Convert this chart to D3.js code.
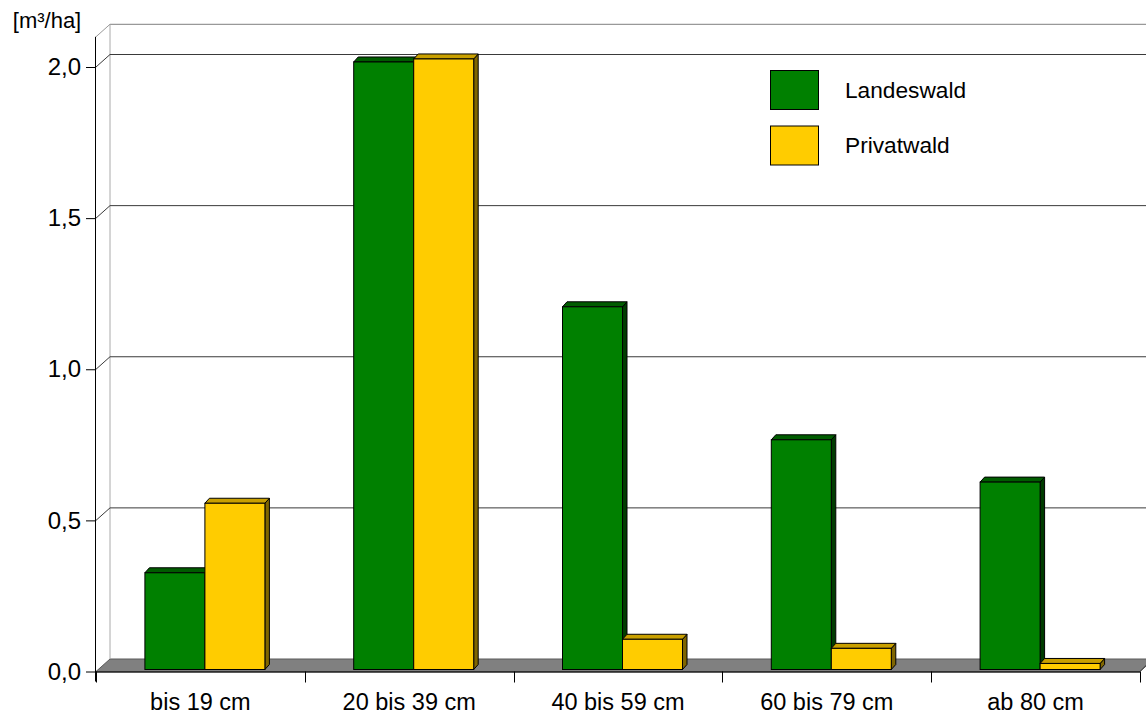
<!DOCTYPE html>
<html>
<head>
<meta charset="utf-8">
<script src="https://cdn.jsdelivr.net/npm/d3@7"></script>
<style>
  html, body { margin: 0; padding: 0; background: #fff; }
  svg { display: block; font-family: "Liberation Sans", Arial, sans-serif; }
</style>
</head>
<body>
<svg id="chart" width="1146" height="713"></svg>
<script>
// Data
const categories = ["bis 19 cm", "20 bis 39 cm", "40 bis 59 cm", "60 bis 79 cm", "ab 80 cm"];
const seriesNames = ["Landeswald", "Privatwald"];
const landeswald = [0.32, 2.01, 1.20, 0.76, 0.62];
const privatwald = [0.55, 2.02, 0.10, 0.07, 0.02];
const yTicks = [0, 0.5, 1.0, 1.5, 2.0];
const yTickLabels = ["0,0", "0,5", "1,0", "1,5", "2,0"];
const unitLabel = "[m³/ha]";

const seriesValues = [landeswald, privatwald];
const colors = {
  Landeswald: { front: "#008000", top: "#005c00", side: "#003c00" },
  Privatwald: { front: "#ffcc00", top: "#c9a000", side: "#806600" }
};

const svg = d3.select("#chart");
const tickFont = 24, catFont = 23.5, legendFont = 22.7, unitFont = 22;

// Plot geometry (front plane and back wall offset)
const left = 96, right = 1140;
const depthX = 14, depthY = -12.5;
const yFront = d3.scaleLinear().domain([0, 2]).range([671.5, 67]);
const yMax = 2.1; // top of the wall
const yBar = d3.scaleLinear().domain([0, 2]).range([669.5, 65]);

const xCat = d3.scaleBand().domain(categories).range([left, right]).padding(0);
const groupWidth = 120;
const xSeries = d3.scaleBand().domain(seriesNames).range([0, groupWidth]).padding(0);
const barShift = 4.5;
const barDx = 4.5, barDy = -5;

// Floor
const y0 = yFront(0);
svg.append("path")
  .attr("d", `M${left},${y0} L${right},${y0} L${right + depthX},${y0 + depthY} L${left + depthX},${y0 + depthY} Z`)
  .attr("fill", "#808080")
  .attr("stroke", "#5a5a5a")
  .attr("stroke-width", 1);

// Back wall top + left edge
const yTop = yFront(yMax);
svg.append("line")
  .attr("x1", left + depthX).attr("x2", 1146)
  .attr("y1", yTop + depthY).attr("y2", yTop + depthY)
  .attr("stroke", "#999").attr("stroke-width", 1.2);
svg.append("line")
  .attr("x1", left + depthX).attr("x2", left + depthX)
  .attr("y1", yTop + depthY).attr("y2", y0 + depthY)
  .attr("stroke", "#aaa").attr("stroke-width", 1);
svg.append("line")
  .attr("x1", left).attr("x2", left + depthX)
  .attr("y1", yTop).attr("y2", yTop + depthY)
  .attr("stroke", "#999").attr("stroke-width", 1);

// Gridlines on back wall with side-wall connectors
const grid = svg.append("g");
yTicks.filter(t => t > 0).forEach(t => {
  const yy = yFront(t);
  grid.append("line")
    .attr("x1", left + depthX).attr("x2", 1146)
    .attr("y1", yy + depthY).attr("y2", yy + depthY)
    .attr("stroke", "#3a3a3a").attr("stroke-width", 1);
  grid.append("line")
    .attr("x1", left).attr("x2", left + depthX)
    .attr("y1", yy).attr("y2", yy + depthY)
    .attr("stroke", "#3a3a3a").attr("stroke-width", 1);
});

// Bars (3D boxes)
const bars = svg.append("g");
categories.forEach((c, i) => {
  seriesNames.forEach((s, j) => {
    const v = seriesValues[j][i];
    const x = xCat(c) + (xCat.bandwidth() - groupWidth) / 2 + barShift + xSeries(s);
    const w = xSeries.bandwidth();
    const yt = yBar(v), yb = yBar(0);
    const col = colors[s];
    // side face
    bars.append("path")
      .attr("d", `M${x + w},${yb} L${x + w + barDx},${yb + barDy} L${x + w + barDx},${yt + barDy} L${x + w},${yt} Z`)
      .attr("fill", col.side).attr("stroke", "#000").attr("stroke-width", 1).attr("stroke-linejoin", "round");
    // top face
    bars.append("path")
      .attr("d", `M${x},${yt} L${x + barDx},${yt + barDy} L${x + w + barDx},${yt + barDy} L${x + w},${yt} Z`)
      .attr("fill", col.top).attr("stroke", "#000").attr("stroke-width", 1).attr("stroke-linejoin", "round");
    // front face
    bars.append("rect")
      .attr("x", x).attr("y", yt).attr("width", w).attr("height", yb - yt)
      .attr("fill", col.front).attr("stroke", "#000").attr("stroke-width", 1);
  });
});

// Floor right edge
svg.append("line")
  .attr("x1", right).attr("x2", right + depthX * 0.75)
  .attr("y1", y0).attr("y2", y0 + depthY * 0.85)
  .attr("stroke", "#444").attr("stroke-width", 1);

// Front value axis
const yAxis = d3.axisLeft(yFront)
  .tickValues(yTicks)
  .tickFormat((d, i) => yTickLabels[i])
  .tickSize(10)
  .tickPadding(5);
const yg = svg.append("g").attr("transform", `translate(${left},0)`).call(yAxis);
yg.select(".domain").attr("d", `M-0.5,${yFront(yMax)}V${y0 + 10}`).attr("stroke", "#000");
yg.selectAll(".tick line").attr("stroke", "#000");
yg.selectAll(".tick text")
  .attr("font-size", tickFont).attr("font-family", "Liberation Sans, Arial, sans-serif")
  .attr("fill", "#000");

// Category axis
const xg = svg.append("g").attr("transform", `translate(0,${y0})`);
xg.append("line").attr("x1", left).attr("x2", right).attr("y1", 0.5).attr("y2", 0.5)
  .attr("stroke", "#222").attr("stroke-width", 1.5);
const boundaries = categories.map(c => xCat(c)).concat([right]);
xg.selectAll("line.sep").data(boundaries).join("line")
  .attr("class", "sep")
  .attr("x1", d => Math.round(d) + 0.5).attr("x2", d => Math.round(d) + 0.5)
  .attr("y1", 0).attr("y2", 11)
  .attr("stroke", "#000");
xg.selectAll("text.cat").data(categories).join("text")
  .attr("class", "cat")
  .attr("x", d => xCat(d) + xCat.bandwidth() / 2)
  .attr("y", 38)
  .attr("text-anchor", "middle")
  .attr("font-size", catFont)
  .attr("fill", "#000")
  .text(d => d);

// Unit label
svg.append("text")
  .attr("x", 47).attr("y", 28)
  .attr("text-anchor", "middle")
  .attr("font-size", unitFont)
  .attr("fill", "#000")
  .text(unitLabel);

// Legend
const legend = svg.append("g").attr("transform", "translate(770,70)");
seriesNames.forEach((s, i) => {
  const g = legend.append("g").attr("transform", `translate(0,${i * 55.5})`);
  g.append("rect").attr("x", 0.5).attr("y", 0.5).attr("width", 48).attr("height", 39)
    .attr("fill", colors[s].front).attr("stroke", "#000").attr("stroke-width", 1);
  g.append("text").attr("x", 75).attr("y", 20).attr("dy", "0.35em")
    .attr("font-size", legendFont).attr("fill", "#000").text(s);
});
</script>
</body>
</html>
